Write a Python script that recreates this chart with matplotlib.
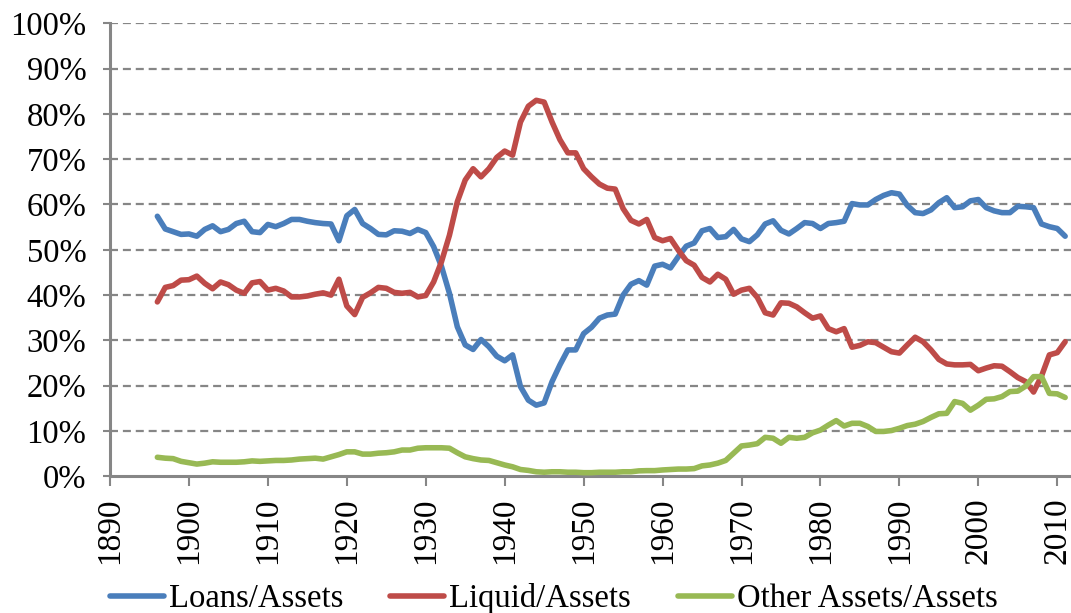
import matplotlib
matplotlib.use("Agg")
import matplotlib.pyplot as plt

plt.rcParams['font.family'] = ['Liberation Serif', 'DejaVu Serif']

years = list(range(1896, 2012))

loans = [57.4, 54.6, 54.0, 53.4, 53.5, 53.0, 54.5, 55.3, 54.0, 54.5,
         55.8, 56.3, 54.0, 53.8, 55.6, 55.1, 55.8, 56.7, 56.7, 56.3,
         56.0, 55.8, 55.7, 52.0, 57.5, 58.9, 55.8, 54.7, 53.4, 53.3,
         54.2, 54.1, 53.6, 54.5, 53.8, 50.7, 46.3, 40.4, 33.0, 29.0,
         28.0, 30.2, 28.6, 26.5, 25.5, 26.8, 19.8, 16.8, 15.7, 16.2,
         20.9, 24.6, 27.9, 27.9, 31.5, 32.9, 34.9, 35.6, 35.8, 40.0,
         42.4, 43.2, 42.2, 46.4, 46.8, 46.0, 48.5, 50.8, 51.5, 54.2,
         54.7, 52.7, 52.9, 54.5, 52.4, 51.8, 53.3, 55.7, 56.4, 54.3,
         53.5, 54.7, 56.0, 55.8, 54.7, 55.8, 56.0, 56.3, 60.2, 59.9,
         59.9, 61.1, 62.0, 62.6, 62.3, 59.8, 58.2, 58.0, 58.8, 60.4,
         61.5, 59.3, 59.5, 60.8, 61.1, 59.3, 58.6, 58.2, 58.2, 59.6,
         59.5, 59.3, 55.7, 55.1, 54.7, 53.0]

liquid = [38.5, 41.7, 42.1, 43.3, 43.4, 44.2, 42.6, 41.4, 42.9, 42.3,
          41.1, 40.4, 42.7, 43.0, 41.1, 41.5, 40.9, 39.6, 39.6, 39.8,
          40.2, 40.5, 40.0, 43.5, 37.6, 35.7, 39.5, 40.5, 41.7, 41.5,
          40.6, 40.4, 40.6, 39.6, 39.9, 42.9, 47.4, 53.2, 60.6, 65.4,
          67.9, 66.1, 67.9, 70.4, 71.8, 70.9, 78.2, 81.7, 83.0, 82.6,
          78.2, 74.3, 71.4, 71.4, 67.9, 66.1, 64.5, 63.6, 63.4, 59.1,
          56.5, 55.7, 56.7, 52.7, 52.0, 52.5, 49.9, 47.6, 46.6, 43.9,
          42.9, 44.6, 43.5, 40.2, 41.1, 41.5, 39.5, 36.1, 35.6, 38.3,
          38.2, 37.4, 36.1, 34.9, 35.4, 32.6, 31.9, 32.6, 28.5, 28.9,
          29.7, 29.5, 28.5, 27.5, 27.2, 29.0, 30.7, 29.7, 27.9, 25.8,
          24.8, 24.6, 24.6, 24.7, 23.3, 23.9, 24.4, 24.3, 23.1, 21.8,
          20.9, 18.6, 22.1, 26.8, 27.3, 29.7]

other = [4.2, 4.0, 3.9, 3.3, 3.0, 2.7, 2.9, 3.2, 3.1, 3.1,
         3.1, 3.2, 3.4, 3.3, 3.4, 3.5, 3.5, 3.6, 3.8, 3.9,
         4.0, 3.8, 4.3, 4.8, 5.4, 5.4, 4.9, 4.9, 5.1, 5.2,
         5.4, 5.8, 5.8, 6.2, 6.3, 6.3, 6.3, 6.2, 5.2, 4.3,
         3.9, 3.6, 3.5, 3.0, 2.5, 2.1, 1.5, 1.3, 1.0, 0.9,
         1.0, 1.0, 0.9, 0.9, 0.8, 0.8, 0.9, 0.9, 0.9, 1.0,
         1.0, 1.2, 1.25, 1.25, 1.4, 1.5, 1.6, 1.6, 1.7, 2.3,
         2.5, 2.9, 3.5, 5.1, 6.7, 6.9, 7.2, 8.6, 8.4, 7.3,
         8.6, 8.4, 8.6, 9.6, 10.2, 11.3, 12.3, 11.1, 11.7, 11.7,
         11.0, 9.9, 9.9, 10.1, 10.6, 11.2, 11.5, 12.1, 13.0, 13.8,
         13.9, 16.5, 16.1, 14.6, 15.7, 17.0, 17.1, 17.6, 18.7, 18.8,
         19.9, 22.0, 22.0, 18.3, 18.2, 17.4]

series = [("Loans/Assets", loans, '#4A7EBB'),
          ("Liquid/Assets", liquid, '#BE4B48'),
          ("Other Assets/Assets", other, '#98B954')]

fig = plt.figure(figsize=(10.71, 6.13), dpi=100)
ax = fig.add_axes([0.1027, 0.223, 0.897, 0.739])

gray = '#868686'
for yv in range(10, 101, 10):
    ax.axhline(yv, color=gray, lw=1.6, linestyle=(0, (3.6, 2.2)), zorder=1)

for name, vals, col in series:
    ax.plot(years, vals, color=col, lw=4.0, label=name, zorder=3,
            solid_joinstyle='round', solid_capstyle='round')

ax.set_xlim(1890, 2011.7)
ax.set_ylim(0, 100)
ax.set_xticks(range(1890, 2011, 10))
ax.set_yticks(range(0, 101, 10))
ax.set_yticklabels([f"{v}%" for v in range(0, 101, 10)])
ax.tick_params(axis='x', labelrotation=90, labelsize=24, length=7,
               width=1.5, color=gray, pad=8)
ax.tick_params(axis='y', labelsize=23.5, length=5, width=1.5,
               color=gray, pad=12)

for s in ['top', 'right']:
    ax.spines[s].set_visible(False)
for s in ['left', 'bottom']:
    ax.spines[s].set_color(gray)
    ax.spines[s].set_linewidth(2.2)

fig.legend(loc='lower center', bbox_to_anchor=(0.517, -0.05), ncol=3,
           frameon=False, fontsize=23.5, handlelength=1.65,
           handletextpad=0.15, columnspacing=1.45)

fig.savefig('out.png', dpi=100)
